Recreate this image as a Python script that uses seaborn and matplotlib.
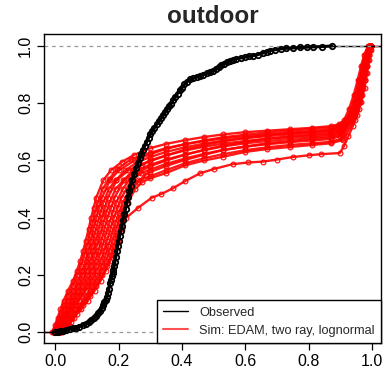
import numpy as np
import pandas as pd
import matplotlib
matplotlib.use("Agg")
import matplotlib.pyplot as plt
from matplotlib.lines import Line2D
import seaborn as sns

# ---------------- data ----------------
title = "outdoor"
legend_labels = ["Observed", "Sim: EDAM, two ray, lognormal"]
x_ticks = [0.0, 0.2, 0.4, 0.6, 0.8, 1.0]
x_tick_labels = ["0.0", "0.2", "0.4", "0.6", "0.8", "1.0"]
y_ticks = [0.0, 0.2, 0.4, 0.6, 0.8, 1.0]
y_tick_labels = ["0.0", "0.2", "0.4", "0.6", "0.8", "1.0"]

obs_x = [0.000, 0.008, 0.014, 0.025, 0.035, 0.045, 0.056, 0.065, 0.075, 0.088,
         0.097, 0.106, 0.114, 0.122, 0.129, 0.135, 0.141, 0.146, 0.151, 0.155,
         0.159, 0.162, 0.166, 0.169, 0.172, 0.175, 0.178, 0.181, 0.183, 0.186,
         0.188, 0.191, 0.194, 0.197, 0.200, 0.203, 0.206, 0.210, 0.214, 0.218,
         0.222, 0.226, 0.230, 0.234, 0.238, 0.243, 0.249, 0.255, 0.261, 0.267,
         0.272, 0.277, 0.283, 0.289, 0.295, 0.300, 0.306, 0.313, 0.320, 0.327,
         0.334, 0.341, 0.347, 0.353, 0.359, 0.365, 0.372, 0.379, 0.386, 0.393,
         0.400, 0.408, 0.416, 0.425, 0.435, 0.446, 0.457, 0.468, 0.480, 0.490,
         0.498, 0.507, 0.516, 0.524, 0.532, 0.541, 0.551, 0.562, 0.572, 0.585,
         0.598, 0.612, 0.625, 0.640, 0.655, 0.668, 0.678, 0.695, 0.712, 0.730,
         0.750, 0.773, 0.795, 0.815, 0.841, 0.874]
obs_y = [0.000, 0.002, 0.003, 0.005, 0.007, 0.010, 0.014, 0.016, 0.019, 0.024,
         0.029, 0.036, 0.042, 0.050, 0.058, 0.066, 0.075, 0.084, 0.094, 0.104,
         0.114, 0.123, 0.137, 0.150, 0.170, 0.182, 0.195, 0.207, 0.217, 0.232,
         0.245, 0.263, 0.283, 0.300, 0.318, 0.335, 0.352, 0.372, 0.392, 0.412,
         0.432, 0.452, 0.472, 0.492, 0.512, 0.532, 0.552, 0.572, 0.590, 0.607,
         0.622, 0.638, 0.652, 0.666, 0.680, 0.692, 0.703, 0.714, 0.726, 0.738,
         0.749, 0.760, 0.770, 0.779, 0.789, 0.799, 0.810, 0.822, 0.834, 0.845,
         0.855, 0.866, 0.875, 0.883, 0.888, 0.892, 0.896, 0.900, 0.905, 0.909,
         0.914, 0.920, 0.926, 0.932, 0.938, 0.943, 0.948, 0.952, 0.955, 0.958,
         0.961, 0.964, 0.966, 0.970, 0.975, 0.980, 0.984, 0.987, 0.990, 0.992,
         0.993, 0.995, 0.996, 0.997, 0.998, 1.000]

# simulated ECDFs -- rising part: ECDF levels (two staggered sets) and x per run
rise_levels_a = [0.000, 0.025, 0.050, 0.080, 0.110, 0.145, 0.180, 0.215,
                 0.250, 0.285, 0.320, 0.360, 0.400, 0.435, 0.470, 0.530]
rise_levels_b = [0.000, 0.012, 0.037, 0.065, 0.095, 0.128, 0.162, 0.198,
                 0.232, 0.268, 0.302, 0.340, 0.380, 0.418, 0.452, 0.500]
sim_rise_set = ["a", "b", "a", "b", "a", "b", "a", "b", "a", "b", "a", "b", "a"]
sim_rise_x = [
    [-0.010, -0.001, 0.007, 0.016, 0.026, 0.040, 0.056, 0.068, 0.079, 0.088, 0.096, 0.105, 0.113, 0.121, 0.129, 0.151],
    [-0.008, -0.002, 0.008, 0.017, 0.028, 0.040, 0.055, 0.069, 0.081, 0.091, 0.100, 0.108, 0.117, 0.125, 0.134, 0.149],
    [-0.005, 0.007, 0.017, 0.028, 0.040, 0.056, 0.072, 0.084, 0.096, 0.104, 0.112, 0.120, 0.129, 0.138, 0.147, 0.172],
    [-0.003, 0.003, 0.016, 0.028, 0.041, 0.055, 0.071, 0.085, 0.097, 0.107, 0.116, 0.124, 0.133, 0.143, 0.151, 0.169],
    [-0.001, 0.014, 0.026, 0.039, 0.052, 0.070, 0.087, 0.099, 0.111, 0.120, 0.128, 0.137, 0.147, 0.157, 0.166, 0.193],
    [0.001, 0.009, 0.024, 0.037, 0.051, 0.068, 0.085, 0.101, 0.113, 0.123, 0.131, 0.141, 0.151, 0.161, 0.171, 0.190],
    [0.003, 0.021, 0.034, 0.048, 0.063, 0.084, 0.102, 0.115, 0.127, 0.136, 0.145, 0.155, 0.165, 0.176, 0.187, 0.216],
    [0.006, 0.015, 0.033, 0.046, 0.062, 0.082, 0.100, 0.117, 0.129, 0.140, 0.149, 0.159, 0.170, 0.181, 0.192, 0.213],
    [0.009, 0.029, 0.043, 0.060, 0.075, 0.096, 0.117, 0.131, 0.144, 0.154, 0.163, 0.174, 0.185, 0.197, 0.209, 0.240],
    [0.012, 0.022, 0.041, 0.059, 0.077, 0.097, 0.115, 0.133, 0.146, 0.158, 0.167, 0.178, 0.189, 0.201, 0.213, 0.236],
    [0.015, 0.037, 0.054, 0.074, 0.092, 0.113, 0.132, 0.147, 0.161, 0.171, 0.181, 0.192, 0.203, 0.215, 0.228, 0.262],
    [0.019, 0.029, 0.049, 0.067, 0.087, 0.109, 0.129, 0.148, 0.162, 0.175, 0.184, 0.195, 0.205, 0.216, 0.228, 0.252],
    [0.021, 0.044, 0.058, 0.081, 0.102, 0.124, 0.143, 0.159, 0.174, 0.186, 0.197, 0.211, 0.224, 0.262, 0.305],
]
# the last run (outlier) has one level fewer in its rise list
sim_rise_count = [16, 16, 16, 16, 16, 16, 16, 16, 16, 16, 16, 16, 15]

# shoulder points between the rise and the plateau
sim_shoulder_x = [
    [0.175, 0.210, 0.250], [0.170, 0.195, 0.240], [0.200, 0.250], [0.190, 0.220, 0.260],
    [0.230, 0.270], [0.215, 0.245, 0.275], [0.250], [0.235, 0.265], [0.270], [0.260, 0.285], [], [0.275],
    [0.335, 0.372, 0.410, 0.457, 0.500, 0.560, 0.610, 0.656, 0.700, 0.750, 0.800, 0.840],
]
sim_shoulder_y = [
    [0.565, 0.595, 0.620], [0.535, 0.570, 0.605], [0.565, 0.600], [0.530, 0.565, 0.595],
    [0.565, 0.585], [0.530, 0.565, 0.585], [0.560], [0.535, 0.560], [0.555], [0.525, 0.550], [], [0.525],
    [0.483, 0.503, 0.528, 0.555, 0.570, 0.587, 0.593, 0.596, 0.603, 0.612, 0.618, 0.622],
]
# plateau (ECDF value at shared x positions)
plateau_x = [0.30, 0.35, 0.41, 0.47, 0.53, 0.60, 0.67, 0.74, 0.81, 0.87]
sim_plateau_y = [
    [0.643, 0.658, 0.671, 0.682, 0.691, 0.699, 0.704, 0.709, 0.714, 0.720],
    [0.627, 0.643, 0.657, 0.668, 0.677, 0.685, 0.691, 0.696, 0.700, 0.705],
    [0.622, 0.641, 0.657, 0.670, 0.681, 0.690, 0.698, 0.704, 0.710, 0.715],
    [0.612, 0.630, 0.646, 0.659, 0.669, 0.678, 0.685, 0.691, 0.696, 0.700],
    [0.600, 0.618, 0.635, 0.648, 0.659, 0.668, 0.676, 0.682, 0.686, 0.690],
    [0.598, 0.617, 0.638, 0.654, 0.667, 0.679, 0.689, 0.697, 0.703, 0.708],
    [0.585, 0.603, 0.621, 0.636, 0.649, 0.660, 0.668, 0.675, 0.680, 0.685],
    [0.580, 0.600, 0.620, 0.637, 0.652, 0.665, 0.676, 0.684, 0.690, 0.695],
    [0.568, 0.588, 0.607, 0.623, 0.637, 0.648, 0.657, 0.664, 0.670, 0.675],
    [0.560, 0.581, 0.602, 0.620, 0.636, 0.649, 0.660, 0.668, 0.675, 0.680],
    [0.545, 0.566, 0.590, 0.608, 0.622, 0.636, 0.646, 0.654, 0.660, 0.665],
    [0.538, 0.556, 0.583, 0.600, 0.613, 0.630, 0.640, 0.647, 0.654, 0.660],
    [],
]
# turn points before the final climb
sim_turn_x = [[0.895], [0.890], [0.895], [0.900], [0.895], [0.900], [0.900],
              [0.905], [0.900], [0.905], [0.905], [0.910], [0.899, 0.912, 0.926, 0.940]]
sim_turn_y = [[0.726], [0.712], [0.722], [0.708], [0.698], [0.716], [0.694],
              [0.703], [0.685], [0.690], [0.676], [0.672], [0.626, 0.650, 0.685, 0.720]]
# final climb (two staggered level sets, x per run)
tail_levels_a = [0.74, 0.78, 0.83, 0.88, 0.93, 0.97, 1.00]
tail_levels_b = [0.76, 0.805, 0.855, 0.905, 0.95, 0.985, 1.00]
sim_tail_x = [
    [0.912, 0.928, 0.943, 0.955, 0.966, 0.976, 0.988],
    [0.930, 0.945, 0.958, 0.968, 0.978, 0.987, 0.991],
    [0.918, 0.934, 0.948, 0.960, 0.970, 0.979, 0.990],
    [0.936, 0.951, 0.962, 0.972, 0.981, 0.989, 0.993],
    [0.925, 0.941, 0.955, 0.966, 0.976, 0.984, 0.992],
    [0.940, 0.955, 0.966, 0.976, 0.984, 0.991, 0.995],
    [0.930, 0.946, 0.959, 0.969, 0.979, 0.986, 0.994],
    [0.944, 0.958, 0.969, 0.979, 0.986, 0.993, 0.996],
    [0.934, 0.950, 0.963, 0.973, 0.982, 0.989, 0.996],
    [0.948, 0.962, 0.973, 0.981, 0.988, 0.994, 0.997],
    [0.938, 0.954, 0.967, 0.977, 0.985, 0.991, 0.997],
    [0.954, 0.967, 0.977, 0.985, 0.991, 0.996, 0.998],
    [0.948, 0.958, 0.968, 0.977, 0.985, 0.991, 0.997],
]

# ---------------- build table ----------------
rows = []
for i in range(len(sim_rise_x)):
    lev = rise_levels_a if sim_rise_set[i] == "a" else rise_levels_b
    tlev = tail_levels_a if sim_rise_set[i] == "a" else tail_levels_b
    xs = list(sim_rise_x[i]) + list(sim_shoulder_x[i])
    ys = list(lev[:sim_rise_count[i]]) + list(sim_shoulder_y[i])
    if sim_plateau_y[i]:
        xs += list(plateau_x)
        ys += list(sim_plateau_y[i])
    xs += list(sim_turn_x[i]) + list(sim_tail_x[i])
    ys += list(sim_turn_y[i]) + list(tlev)
    for xv, yv in zip(xs, ys):
        rows.append({"run": i, "x": xv, "y": yv})
sim_df = pd.DataFrame(rows)
obs_df = pd.DataFrame({"x": obs_x, "y": obs_y})

# ---------------- plot ----------------
sns.set_style("ticks")
plt.rcParams["font.family"] = ["Liberation Sans", "DejaVu Sans"]

fig = plt.figure(figsize=(3.9, 3.71), dpi=100)
ax = fig.add_axes([44 / 390, 1 - 343 / 371, 337 / 390, 309 / 371])
xlim = (-0.036, 1.029)
ylim = (-0.038, 1.042)

ax.axhline(0, color="#999999", lw=0.9, ls=(0, (3, 3)), zorder=1)
ax.axhline(1, color="#999999", lw=0.9, ls=(0, (3, 3)), zorder=1)

# ECDF tails extending beyond data
ax.hlines(0, xlim[0], min(r[0] for r in sim_rise_x), color="red", lw=1, zorder=2)
ax.hlines(1, max(t[-1] for t in sim_tail_x), xlim[1], color="red", lw=1, zorder=2)

sns.lineplot(data=sim_df, x="x", y="y", units="run", estimator=None, sort=False,
             color="#ff0000", lw=1.7, alpha=0.9, marker="o", markersize=3.4,
             markerfacecolor="none", markeredgecolor="#ff0000", markeredgewidth=0.9,
             legend=False, ax=ax, zorder=3)

ax.hlines(0, xlim[0], obs_x[0], color="black", lw=1, zorder=4)
ax.hlines(1, obs_x[-1], xlim[1], color="black", lw=1, zorder=4)
sns.lineplot(data=obs_df, x="x", y="y", estimator=None, sort=False,
             color="black", lw=2.2, marker="o", markersize=3.9,
             markerfacecolor="none", markeredgecolor="black", markeredgewidth=1.3,
             legend=False, ax=ax, zorder=5)
ax.axhline(1, color="#999999", lw=0.9, ls=(0, (3, 3)), zorder=6, xmin=0.87)

ax.set_xlim(*xlim)
ax.set_ylim(*ylim)
ax.set_xticks(x_ticks)
ax.set_xticklabels(x_tick_labels)
ax.set_yticks(y_ticks)
ax.set_yticklabels(y_tick_labels, rotation=90, va="center")
ax.set_xlabel("")
ax.set_ylabel("")
ax.tick_params(axis="both", length=5, width=0.9, pad=3, labelsize=11.5,
               colors="black", direction="out")
for s in ax.spines.values():
    s.set_color("black")
    s.set_linewidth(1.0)
ax.set_title(title, fontsize=17.5, fontweight="bold", pad=8)

handles = [Line2D([], [], color="black", lw=1),
           Line2D([], [], color="#ff5050", lw=1.5)]
leg = ax.legend(handles, legend_labels, loc="lower right", fontsize=9.2,
                frameon=True, fancybox=False, borderaxespad=0, framealpha=1,
                handlelength=1.9, handletextpad=0.9, borderpad=0.5,
                labelspacing=0.45, edgecolor="black")
leg.get_frame().set_linewidth(1.0)
leg.set_zorder(10)

fig.savefig("out.png", dpi=100)
